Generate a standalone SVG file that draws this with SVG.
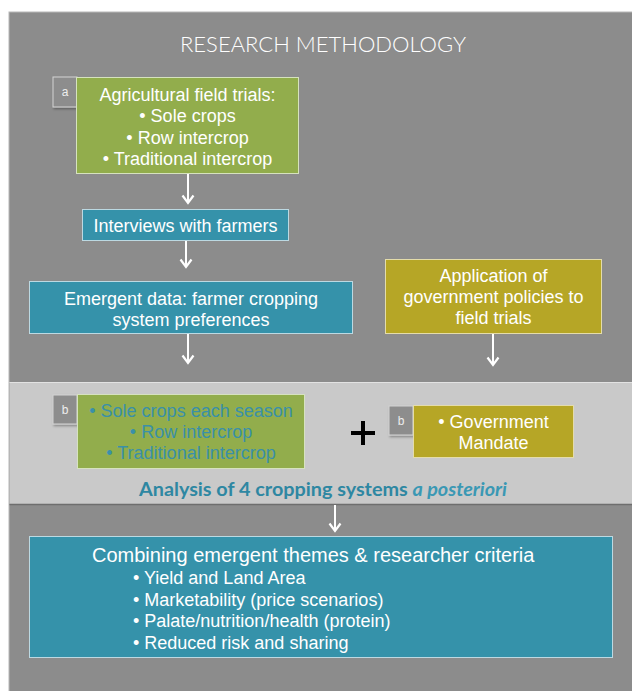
<svg xmlns="http://www.w3.org/2000/svg" width="632" height="691" viewBox="0 0 632 691">
  <defs>
    <marker id="vhead" markerWidth="14" markerHeight="14" viewBox="0 0 14 14" refX="11" refY="7" orient="auto" markerUnits="userSpaceOnUse">
      <path d="M3.5,1.5 L11,7 L3.5,12.5" fill="none" stroke="#ffffff" stroke-width="2.2" stroke-linejoin="miter"/>
    </marker>
    <filter id="shadow" x="-30%" y="-30%" width="160%" height="160%">
      <feDropShadow dx="1" dy="1.5" stdDeviation="1" flood-color="#000" flood-opacity="0.35"/>
    </filter>
  </defs>
  <style>
    .txt { font-family: "Liberation Sans", Arial, sans-serif; fill: #ffffff; }
    .c { text-anchor: middle; }
    .t18 { font-size: 18px; }
    .green { fill: #92ad4c; stroke: #d6e2bf; stroke-width: 1; }
    .teal { fill: #3592aa; stroke: #bcd9e2; stroke-width: 1; }
    .olive { fill: #b6a626; stroke: #e4dcaa; stroke-width: 1; }
    .tag { fill: #8d8d8d; stroke: #d4d4d4; stroke-width: 1; filter: url(#shadow); }
    .tagtxt { font-family: "Liberation Sans", Arial, sans-serif; font-size: 12px; fill: #eeeeee; text-anchor: middle; }
    .conn { stroke: #ffffff; stroke-width: 2; fill: none; marker-end: url(#vhead); }
    .tealtxt { fill: #3a90a8; }
  </style>

  <rect x="0" y="0" width="632" height="691" fill="#ffffff"/>
  <rect id="panel" x="9" y="12" width="624" height="680" fill="#8c8c8c" stroke="#b8b8b8" stroke-width="1"/>
  <rect id="band" x="9.5" y="382" width="622.5" height="122" fill="#c9c9c9"/>
  <line x1="9.5" y1="382.5" x2="632" y2="382.5" stroke="#e2e2e2" stroke-width="1"/>
  <line x1="9.5" y1="504.5" x2="632" y2="504.5" stroke="#6e6e6e" stroke-width="1.5"/>

  <text id="title" x="323" y="52" font-family="Lato, 'Open Sans', sans-serif" font-weight="300" font-size="22" fill="#ffffff" text-anchor="middle">RESEARCH METHODOLOGY</text>

  <g id="connectors">
    <line class="conn" x1="188" y1="174" x2="188" y2="203"/>
    <line class="conn" x1="186" y1="241" x2="186" y2="267"/>
    <line class="conn" x1="188" y1="334" x2="188" y2="363"/>
    <line class="conn" x1="493" y1="334" x2="493" y2="365"/>
    <line class="conn" x1="335" y1="505" x2="335" y2="531"/>
  </g>

  <g id="field-trials">
    <rect class="tag" x="53" y="77" width="24" height="30"/>
    <text class="tagtxt" x="65" y="96">a</text>
    <rect class="green" x="76.5" y="77.5" width="222" height="96"/>
    <text class="txt t18 c" x="187.5" y="100.5">Agricultural field trials:</text>
    <text class="txt t18 c" x="187.5" y="122">• Sole crops</text>
    <text class="txt t18 c" x="187.5" y="143.5">• Row intercrop</text>
    <text class="txt t18 c" x="187.5" y="165">• Traditional intercrop</text>
  </g>

  <g id="interviews">
    <rect class="teal" x="82.5" y="209.5" width="206" height="31"/>
    <text class="txt t18 c" x="185.5" y="231.5">Interviews with farmers</text>
  </g>

  <g id="emergent">
    <rect class="teal" x="29.5" y="281.5" width="323" height="52"/>
    <text class="txt t18 c" x="191" y="305">Emergent data: farmer cropping</text>
    <text class="txt t18 c" x="191" y="325.5">system preferences</text>
  </g>

  <g id="policies">
    <rect class="olive" x="385.5" y="259.5" width="216" height="74"/>
    <text class="txt t18 c" x="493.5" y="282">Application of</text>
    <text class="txt t18 c" x="493.5" y="303">government policies to</text>
    <text class="txt t18 c" x="493.5" y="324">field trials</text>
  </g>

  <g id="cropping-systems">
    <rect class="tag" x="53" y="395" width="24" height="29"/>
    <text class="tagtxt" x="65" y="414">b</text>
    <rect class="green" x="77.5" y="394.5" width="227" height="74"/>
    <text class="txt t18 c tealtxt" x="191" y="417">• Sole crops each season</text>
    <text class="txt t18 c tealtxt" x="191" y="438">• Row intercrop</text>
    <text class="txt t18 c tealtxt" x="191" y="459">• Traditional intercrop</text>
  </g>

  <g id="plus">
    <path d="M351,433 H375 M363,421 V445" stroke="#000000" stroke-width="4" fill="none"/>
  </g>

  <g id="mandate">
    <rect class="tag" x="389" y="406" width="24" height="29"/>
    <text class="tagtxt" x="401" y="425">b</text>
    <rect class="olive" x="413.5" y="405.5" width="160" height="52"/>
    <text class="txt t18 c" x="493.5" y="428">• Government</text>
    <text class="txt t18 c" x="493.5" y="448.5">Mandate</text>
  </g>

  <text id="analysis" x="323" y="495.5" font-family="Lato, 'Open Sans', sans-serif" font-weight="700" font-size="19.8" fill="#2e87a2" text-anchor="middle">Analysis of 4 cropping systems <tspan font-style="italic" fill="#3a98b4">a posteriori</tspan></text>

  <g id="combining">
    <rect class="teal" x="29.5" y="536.5" width="583" height="121"/>
    <text class="txt" x="92" y="562" font-size="20">Combining emergent themes &amp; researcher criteria</text>
    <text class="txt t18" x="133" y="583.5">• Yield and Land Area</text>
    <text class="txt t18" x="133" y="606">• Marketability (price scenarios)</text>
    <text class="txt t18" x="133" y="627">• Palate/nutrition/health (protein)</text>
    <text class="txt t18" x="133" y="648.5">• Reduced risk and sharing</text>
  </g>
</svg>
